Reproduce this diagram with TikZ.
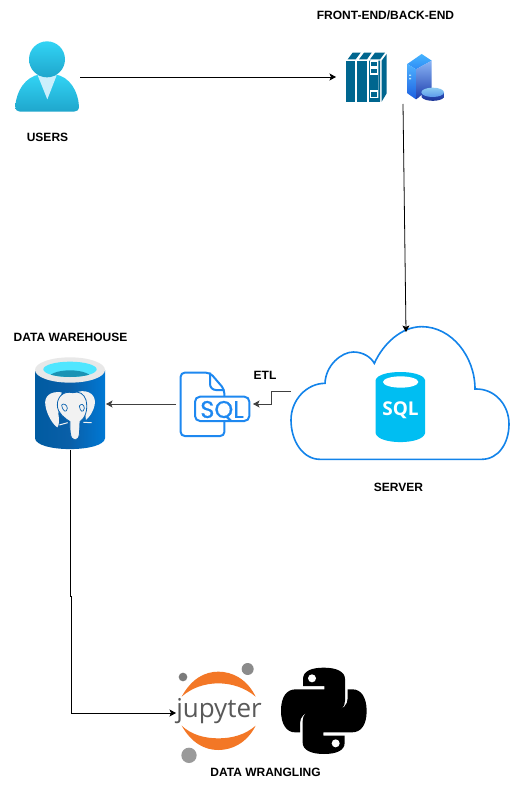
\documentclass[tikz,border=0pt]{standalone}
\usepackage{fontspec}
\setmainfont{Liberation Sans}
\newfontfamily\jupfont{Open Sans}
\newfontfamily\sqlfont[RawFeature={embolden=0.7}]{Poppins}
\newfontfamily\dbfont{Open Sans}
\usetikzlibrary{arrows.meta}
\definecolor{teal1}{HTML}{00668F}
\definecolor{sqlblue}{HTML}{1E88F0}
\definecolor{cloudblue}{HTML}{1283EA}
\definecolor{dbcyan}{HTML}{00BEF2}
\definecolor{jorange}{HTML}{F37726}
\definecolor{jgrey}{HTML}{9A9A9A}
\definecolor{usertop}{HTML}{32D4F5}
\definecolor{userbot}{HTML}{1FA6CC}
\definecolor{pgline}{HTML}{0A62AE}
\definecolor{whcyan}{HTML}{50E6FF}
\definecolor{whdeep}{HTML}{1B93B4}
\tikzset{
  lab/.style={font=\bfseries\fontsize{12}{14}\selectfont,inner sep=0pt,text=black},
  iconbox/.style={inner sep=0pt,outer sep=0pt,minimum width=#1},
  link/.style={draw=black,line width=0.8pt,-{Stealth[length=6.5pt,width=7pt,inset=1.5pt]}},
  linkg/.style={draw=black!75,line width=0.9pt,-{Stealth[length=6.5pt,width=7pt,inset=1.5pt]}},
  zoomA/.style={shift={(#1)},x=0.33333pt,y=-0.33333pt}
}
\begin{document}
\begin{tikzpicture}[x=1pt,y=-1pt]
\useasboundingbox (0,0) rectangle (511,799);
\fill[white] (0,0) rectangle (511,799);

% ---- anchors for the icons
\node[iconbox=66,minimum height=70] (users) at (47,77) {};
\node[iconbox=48,minimum height=50] (cabinet) at (360,77) {};
\node[iconbox=40,minimum height=48] (tower) at (403,80) {};
\node[iconbox=218,minimum height=118] (cloud) at (400,391) {};
\node[iconbox=77,minimum height=64] (sqlfile) at (214.5,404) {};
\node[iconbox=71,minimum height=92] (warehouse) at (70.5,404) {};
\node[iconbox=88,minimum height=90] (jupyter) at (220,713) {};
\node[iconbox=86,minimum height=86] (python) at (324,711) {};

% ---- user
\begin{scope}[zoomA={0,30}]
\shade[top color=usertop,bottom color=userbot]
  (46,230) .. controls (48,185) and (75,140) .. (120,133) -- (165,133) .. controls (210,140) and (235,185) .. (237,230) .. controls (237,240) and (230,245) .. (222,245) -- (60,245) .. controls (52,245) and (46,240) .. (46,230) -- cycle;
\fill[white!80!cyan] (113,136) -- (170,136) -- (142,208) -- cycle;
\shade[top color=usertop,bottom color=userbot] (141,88) ellipse (54 and 54);
\end{scope}

% ---- cabinet
\begin{scope}[zoomA={330,40}]
\fill[teal1] (48,62) rectangle (75,185);
\fill[teal1] (82,62) rectangle (110,185);
\fill[teal1] (117,175) rectangle (150,185);
\fill[teal1] (117,62) rectangle (122,185) (145,62) rectangle (150,185);
\fill[white] (120,62) rectangle (145,175);
\fill[teal1] (122,65) rectangle (141,78);
\fill[teal1] (122,87) rectangle (141,100);
\fill[teal1] (118,105) rectangle (145,150);
\fill[teal1] (122,156) rectangle (141,170);
\fill[teal1] (53,58) -- (68,38) -- (92,38) -- (77,58) -- cycle;
\fill[teal1] (87,58) -- (102,38) -- (125,38) -- (111,58) -- cycle;
\fill[teal1] (120,58) -- (135,38) -- (165,38) -- (150,58) -- cycle;
\fill[teal1] (155,62) -- (170,42) -- (170,160) -- (155,185) -- cycle;
\end{scope}

% ---- tower with disk
\definecolor{twtop}{HTML}{46B4FF}
\definecolor{twtop2}{HTML}{2E8BF5}
\definecolor{twl1}{HTML}{4FB2FF}
\definecolor{twl2}{HTML}{1C5FE0}
\definecolor{twr1}{HTML}{8AB4F5}
\definecolor{twr2}{HTML}{1E3FAE}
\definecolor{dsk1}{HTML}{8CCBF2}
\definecolor{dsk2}{HTML}{5C9BEA}
\definecolor{dsk3}{HTML}{2C50BC}
\definecolor{dsk4}{HTML}{1B3391}
\begin{scope}[zoomA={330,40}]
\shade[top color=twtop,bottom color=twtop2] (232,72) -- (275,42) -- (305,62) -- (258,88) -- cycle;
\shade[top color=twl1,bottom color=twl2] (232,72) -- (258,88) -- (258,178) -- (232,160) -- cycle;
\shade[top color=twr1,bottom color=twr2] (258,88) -- (305,62) -- (305,145) -- (258,178) -- cycle;
\fill[white] (268,170) -- (310,146) -- (310,172) -- cycle;
\shade[top color=dsk3,bottom color=dsk4] (275,158) -- (275,172) .. controls (285,186) and (332,186) .. (342,172) -- (342,158) -- cycle;
\shade[top color=dsk1,bottom color=dsk2] (308,157) ellipse (34 and 14);
\fill[white!70!cyan] (237,104) rectangle (243,108) (237,114) rectangle (243,118);
\end{scope}

% ---- cloud + database
\begin{scope}[zoomA={285,320}]
\draw[cloudblue,line width=1.6pt,fill=white] (105,418) .. controls (55,418) and (18,365) .. (18,300)
  .. controls (18,240) and (65,190) .. (120,190)
  .. controls (122,135) and (170,96) .. (205,96)
  .. controls (235,96) and (258,112) .. (268,130)
  .. controls (295,70) and (350,20) .. (410,20)
  .. controls (500,20) and (570,110) .. (570,207)
  .. controls (630,205) and (672,255) .. (672,312)
  .. controls (672,370) and (640,418) .. (590,418) -- cycle;
\fill[dbcyan] (272,180) -- (272,340) .. controls (280,375) and (412,375) .. (420,340) -- (420,180) .. controls (412,148) and (280,148) .. (272,180) -- cycle;
\fill[white] (347,186) ellipse (53 and 17);
\end{scope}
\node[font=\dbfont\bfseries\fontsize{19}{19}\selectfont,text=white,inner sep=0pt] (sqltext) at (400.5,410) {SQL};

% ---- SQL file
\begin{scope}[zoomA={170,360}]
\draw[sqlblue,line width=2pt,rounded corners=4pt,line join=round] (163,183) -- (163,228) -- (32,228) -- (32,38) -- (120,38) -- (163,88) -- (163,110);
\draw[sqlblue,line width=2pt,line join=round] (120,38) -- (120,72) .. controls (120,82) and (128,90) .. (138,90) -- (163,90);
\draw[sqlblue,line width=2pt,fill=white,rounded corners=5pt] (75,110) rectangle (238,183);
\end{scope}
\node[font=\sqlfont\fontsize{24}{24}\selectfont,text=sqlblue,inner sep=0pt] (sqlword) at (222,411) {SQL};

% ---- warehouse
\definecolor{wh1}{HTML}{005BA1}
\definecolor{wh2}{HTML}{0078D4}
\definecolor{wh3}{HTML}{0A5FA8}
\begin{scope}[zoomA={20,350}]
\shade[left color=wh1,right color=wh2,middle color=wh3]
  (45,60) -- (45,265) .. controls (50,308) and (250,308) .. (255,265) -- (255,60) -- cycle;
\fill[black!9] (150,60) ellipse (105 and 38);
\fill[whcyan] (150,58) ellipse (80 and 23);
\begin{scope}
\clip (150,58) ellipse (80 and 23);
\fill[whdeep] (150,85) ellipse (65 and 24);
\end{scope}
% elephant
\fill[white!95!black] (125,127) .. controls (90,122) and (72,140) .. (76,165) .. controls (80,195) and (100,225) .. (112,232) .. controls (118,225) and (118,210) .. (115,190) -- cycle;
\fill[white!95!black] (175,125) .. controls (205,118) and (230,135) .. (224,165) .. controls (218,190) and (208,200) .. (198,210) -- (190,150) -- cycle;
\draw[white!95!black,line width=1pt] (118,225) -- (143,218) (190,217) -- (215,218);
\draw[pgline,line width=0.8pt,fill=white!95!black] (158,128) .. controls (130,122) and (112,140) .. (112,165) .. controls (112,190) and (135,205) .. (150,215) .. controls (150,235) and (148,270) .. (165,270) .. controls (182,270) and (178,240) .. (180,215) .. controls (195,205) and (205,180) .. (198,150) .. controls (192,132) and (178,122) .. (158,128) -- cycle;
\draw[pgline,line width=0.7pt] (125,165) .. controls (128,185) and (140,190) .. (142,175) .. controls (142,165) and (130,158) .. (125,165);
\draw[pgline,line width=0.7pt] (178,168) .. controls (180,185) and (190,190) .. (193,175) .. controls (193,162) and (182,160) .. (178,168);
\end{scope}

% ---- jupyter
\begin{scope}[zoomA={165,655}]
\fill[jorange] (50,125) .. controls (80,70) and (120,50) .. (160,50) .. controls (200,50) and (245,70) .. (272,125) .. controls (240,98) and (200,85) .. (160,85) .. controls (120,85) and (80,98) .. (50,125) -- cycle;
\fill[jorange] (50,212) .. controls (80,265) and (120,285) .. (160,285) .. controls (200,285) and (245,265) .. (272,212) .. controls (240,240) and (200,250) .. (160,250) .. controls (120,250) and (80,240) .. (50,212) -- cycle;
\fill[jgrey!90!black] (248,42) circle (18 and 18);
\fill[jgrey!80!black] (54,66) circle (13 and 13);
\fill[jgrey] (72,301) circle (23 and 23);
\end{scope}
\node[font=\jupfont\fontsize{26}{26}\selectfont,text=black!65,inner sep=0pt] (jupword) at (219,711) {jupyter};

% ---- python (two snakes, point-symmetric about (476.5,167.5))
\begin{scope}[zoomA={165,655}]
\fill[black] (476,38) .. controls (440,38) and (414,48) .. (414,72) -- (414,93) -- (478,93) -- (478,103) -- (392,103) .. controls (365,103) and (348,125) .. (348,167) .. controls (348,208) and (365,232) .. (390,232) -- (405,232) -- (405,205) .. controls (405,185) and (420,170) .. (442,170) -- (508,170) .. controls (528,170) and (540,155) .. (540,137) -- (540,72) .. controls (540,50) and (515,38) .. (476,38) -- cycle;
\fill[black] (477,297) .. controls (513,297) and (539,287) .. (539,263) -- (539,242) -- (475,242) -- (475,232) -- (561,232) .. controls (588,232) and (605,210) .. (605,168) .. controls (605,127) and (588,103) .. (563,103) -- (548,103) -- (548,130) .. controls (548,150) and (533,165) .. (511,165) -- (445,165) .. controls (425,165) and (413,180) .. (413,198) -- (413,263) .. controls (413,285) and (438,297) .. (477,297) -- cycle;
\fill[white] (441,70) circle (12 and 12);
\fill[white] (512,265) circle (12 and 12);
\end{scope}

% ---- labels
\node[lab] (lusers) at (47.5,137) {USERS};
\node[lab] (lfront) at (385.5,15) {FRONT-END/BACK-END};
\node[lab] (lwh) at (70.5,337) {DATA WAREHOUSE};
\node[lab] (letl) at (265,375) {ETL};
\node[lab] (lserver) at (398.5,487) {SERVER};
\node[lab] (lwrang) at (265.5,772) {DATA WRANGLING};

% ---- connectors
\draw[link] (users.east) -- (cabinet.west);
\draw[link] (tower.south) -- ([xshift=6pt]cloud.north);
\draw[linkg] (cloud.west) -- ++(-20,0) -- ++(0,13) -- (sqlfile.east);
\draw[linkg] (sqlfile.west) -- (warehouse.east);
\draw[link] (warehouse.south) -- ++(0,146) -- ++(1,0) |- (jupyter.west);
\end{tikzpicture}
\end{document}
